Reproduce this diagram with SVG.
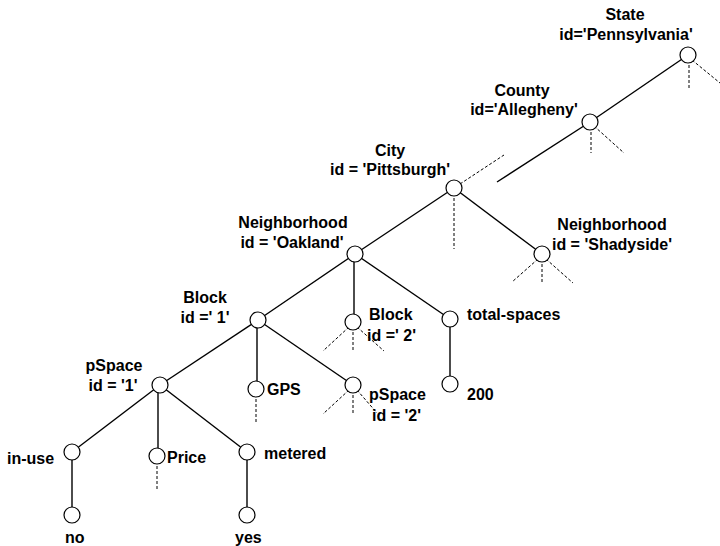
<svg xmlns="http://www.w3.org/2000/svg" width="720" height="546" viewBox="0 0 720 546">
<style>
.e{stroke:#000;stroke-width:1.4;fill:none}
.d{stroke:#000;stroke-width:1;stroke-dasharray:3,2;fill:none}
.n circle{fill:#fff;stroke:#000;stroke-width:1.2}
text{font-family:"Liberation Sans",Arial,sans-serif;font-weight:bold;font-size:16px;fill:#000}
.m{text-anchor:middle}
</style>
<rect width="720" height="546" fill="#fff"/>
<g id="connectors">
<line class="e" x1="688" y1="55" x2="590" y2="122"/>
<line class="e" x1="590" y1="122" x2="497" y2="182"/>
<line class="e" x1="454" y1="188" x2="355" y2="254"/>
<line class="e" x1="454" y1="188" x2="542" y2="254"/>
<line class="e" x1="355" y1="254" x2="258" y2="320"/>
<line class="e" x1="354" y1="254" x2="354" y2="322"/>
<line class="e" x1="355" y1="254" x2="450" y2="319"/>
<line class="e" x1="450" y1="319" x2="450" y2="384"/>
<line class="e" x1="258" y1="320" x2="160" y2="385"/>
<line class="e" x1="257" y1="320" x2="257" y2="389"/>
<line class="e" x1="258" y1="320" x2="353" y2="385"/>
<line class="e" x1="160" y1="385" x2="72" y2="452"/>
<line class="e" x1="158" y1="385" x2="158" y2="456"/>
<line class="e" x1="160" y1="385" x2="247" y2="452"/>
<line class="e" x1="72" y1="452" x2="72" y2="515"/>
<line class="e" x1="247" y1="452" x2="247" y2="515"/>
<line class="d" x1="689" y1="60" x2="689" y2="88"/>
<line class="d" x1="692" y1="60" x2="720" y2="83"/>
<line class="d" x1="591" y1="127" x2="591" y2="153"/>
<line class="d" x1="594" y1="126" x2="624" y2="153"/>
<line class="d" x1="454" y1="193" x2="454" y2="249"/>
<line class="d" x1="460" y1="184" x2="504" y2="155"/>
<line class="d" x1="538" y1="259" x2="512" y2="282"/>
<line class="d" x1="542" y1="259" x2="542" y2="283"/>
<line class="d" x1="546" y1="259" x2="573" y2="283"/>
<line class="d" x1="349" y1="327" x2="323" y2="351"/>
<line class="d" x1="353" y1="327" x2="353" y2="352"/>
<line class="d" x1="357" y1="327" x2="384" y2="351"/>
<line class="d" x1="349" y1="390" x2="323" y2="414"/>
<line class="d" x1="353" y1="390" x2="353" y2="415"/>
<line class="d" x1="357" y1="390" x2="377" y2="413"/>
<line class="d" x1="256" y1="394" x2="256" y2="424"/>
<line class="d" x1="157" y1="461" x2="157" y2="490"/>
</g>
<g id="state" class="n"><circle cx="688" cy="55" r="8"/><text class="m" x="625" y="20">State</text><text class="m" x="626" y="40">id='Pennsylvania'</text></g>
<g id="county" class="n"><circle cx="590" cy="122" r="8"/><text class="m" x="522" y="96">County</text><text class="m" x="524" y="115">id='Allegheny'</text></g>
<g id="city" class="n"><circle cx="454" cy="188" r="8"/><text class="m" x="390" y="156">City</text><text class="m" x="390" y="175">id = 'Pittsburgh'</text></g>
<g id="shadyside" class="n"><circle cx="542" cy="254" r="8"/><text class="m" x="612" y="230">Neighborhood</text><text class="m" x="612" y="250">id = 'Shadyside'</text></g>
<g id="oakland" class="n"><circle cx="355" cy="254" r="8"/><text class="m" x="293" y="228">Neighborhood</text><text class="m" x="292" y="248">id = 'Oakland'</text></g>
<g id="block1" class="n"><circle cx="258" cy="320" r="8"/><text class="m" x="205" y="303">Block</text><text class="m" x="205" y="323">id =' 1'</text></g>
<g id="block2" class="n"><circle cx="353" cy="322" r="8"/><text x="369" y="320">Block</text><text x="367" y="341">id =' 2'</text></g>
<g id="total-spaces" class="n"><circle cx="450" cy="319" r="8"/><text x="467" y="320">total-spaces</text></g>
<g id="v200" class="n"><circle cx="450" cy="384" r="8"/><text x="467" y="400">200</text></g>
<g id="pspace1" class="n"><circle cx="160" cy="385" r="8"/><text class="m" x="114" y="371">pSpace</text><text class="m" x="113" y="391">id = '1'</text></g>
<g id="gps" class="n"><circle cx="256" cy="389" r="8"/><text x="267" y="395">GPS</text></g>
<g id="pspace2" class="n"><circle cx="353" cy="385" r="8"/><text x="369" y="400">pSpace</text><text x="372" y="421">id = '2'</text></g>
<g id="in-use" class="n"><circle cx="72" cy="452" r="8"/><text x="7" y="464">in-use</text></g>
<g id="price" class="n"><circle cx="157" cy="456" r="8"/><text x="167" y="463">Price</text></g>
<g id="metered" class="n"><circle cx="247" cy="452" r="8"/><text x="264" y="459">metered</text></g>
<g id="no" class="n"><circle cx="72" cy="515" r="8"/><text x="65" y="543">no</text></g>
<g id="yes" class="n"><circle cx="247" cy="515" r="8"/><text x="235" y="543">yes</text></g>
</svg>
